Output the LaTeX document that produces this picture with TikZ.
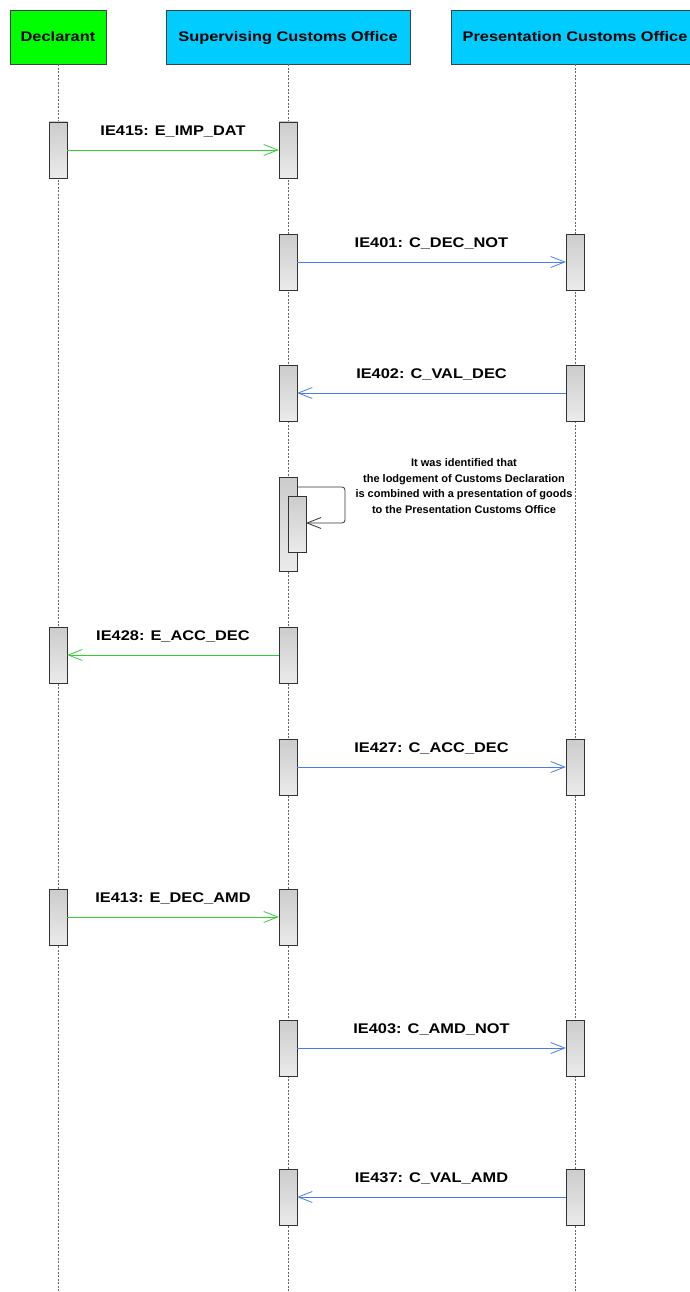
\documentclass[tikz,border=0pt]{standalone}
\usepackage{fontspec}
\usetikzlibrary{arrows.meta}
\newfontfamily\diagfont{Liberation Sans}[FakeStretch=1.17]
\newfontfamily\notefont{Liberation Sans}
\definecolor{declgreen}{HTML}{00FF00}
\definecolor{officecyan}{HTML}{00CCFF}
\definecolor{msggreen}{HTML}{33CC33}
\definecolor{msgblue}{HTML}{4A7BEA}
\tikzset{
  actor/.style={draw=black!75, minimum height=54, inner sep=0, text height=10pt, text depth=0pt, font=\diagfont\bfseries\fontsize{14}{16}\selectfont},
  act/.style={draw=black!80, minimum width=18, minimum height=56, inner sep=0, top color=black!20, bottom color=black!8},
  life/.style={black!60, dash pattern=on 2pt off 1.5pt, line width=0.6pt},
  lab/.style={font=\diagfont\bfseries\fontsize{14}{16}\selectfont, above=9pt},
  msg/.style={-{Straight Barb[length=14pt,width=11pt]}, line width=0.8pt},
}

\begin{document}
\begin{tikzpicture}[x=1pt, y=-1pt]
\useasboundingbox (0,0) rectangle (690,1292);

% actors and lifelines
\node[actor, fill=declgreen, minimum width=96] (decl) at (58,37) {Declarant};
\node[actor, fill=officecyan, minimum width=244] (superv) at (288,37) {Supervising Customs Office};
\node[actor, fill=officecyan, minimum width=248] (pres) at (575,37) {Presentation Customs Office};
\coordinate (declend) at (58,1292);
\coordinate (supervend) at (288,1292);
\coordinate (presend) at (575,1292);
\draw[life] (decl) -- (declend);
\draw[life] (superv) -- (supervend);
\draw[life] (pres) -- (presend);

% IE415
\node[act] (d1) at (58,150) {};
\node[act] (s1) at (288,150) {};
\draw[msg, msggreen] (d1) -- (s1) node[lab, midway, black] {IE415: E\_IMP\_DAT};

% IE401
\node[act] (s2) at (288,262) {};
\node[act] (p2) at (575,262) {};
\draw[msg, msgblue] (s2) -- (p2) node[lab, midway, black] {IE401: C\_DEC\_NOT};

% IE402
\node[act] (s3) at (288,393) {};
\node[act] (p3) at (575,393) {};
\draw[msg, msgblue] (p3) -- (s3) node[lab, midway, black] {IE402: C\_VAL\_DEC};

% self message
\node[act, minimum height=94] (s4) at (288,524) {};
\node[act] (s4b) at (297,524) {};
\coordinate (selfout) at (297,487);
\coordinate (selfin) at (306,523);
\draw[msg, black!80, rounded corners=3pt] (selfout) -- ++(48,0) |- (selfin);
\node[font=\notefont\bfseries\fontsize{11}{15.5}\selectfont, align=center] (note) at (464,486)
  {It was identified that\\the lodgement of Customs Declaration\\is combined with a presentation of goods\\to the Presentation Customs Office};

% IE428
\node[act] (d5) at (58,655) {};
\node[act] (s5) at (288,655) {};
\draw[msg, msggreen] (s5) -- (d5) node[lab, midway, black] {IE428: E\_ACC\_DEC};

% IE427
\node[act] (s6) at (288,767) {};
\node[act] (p6) at (575,767) {};
\draw[msg, msgblue] (s6) -- (p6) node[lab, midway, black] {IE427: C\_ACC\_DEC};

% IE413
\node[act] (d7) at (58,917) {};
\node[act] (s7) at (288,917) {};
\draw[msg, msggreen] (d7) -- (s7) node[lab, midway, black] {IE413: E\_DEC\_AMD};

% IE403
\node[act] (s8) at (288,1048) {};
\node[act] (p8) at (575,1048) {};
\draw[msg, msgblue] (s8) -- (p8) node[lab, midway, black] {IE403: C\_AMD\_NOT};

% IE437
\node[act] (s9) at (288,1197) {};
\node[act] (p9) at (575,1197) {};
\draw[msg, msgblue] (p9) -- (s9) node[lab, midway, black] {IE437: C\_VAL\_AMD};
\end{tikzpicture}
\end{document}
